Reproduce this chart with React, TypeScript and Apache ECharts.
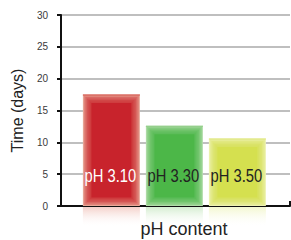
import React, { useEffect, useRef } from "react";
import * as echarts from "echarts";

const categories = ["pH 3.10", "pH 3.30", "pH 3.50"];
const days = [17.5, 12.6, 10.6];
const yTicks = [0, 5, 10, 15, 20, 25, 30];
const coreColors = ["rgba(200,35,44,1)", "rgba(76,183,72,1)", "rgba(213,224,79,1)"];
const layerColors = ["rgba(200,35,44,0.28)", "rgba(76,183,72,0.28)", "rgba(213,224,79,0.28)"];
const edgeColors = ["#e9a898", "#b0dca8", "#edf2b0"];
const topColors = ["#d2504a", "#8fcd86", "#dde67a"];
const reflectColors = ["rgba(230,150,135,0.45)", "rgba(160,215,150,0.45)", "rgba(230,238,160,0.5)"];
const labelColors = ["#ffffff", "#222222", "#222222"];

const SANS = '"Liberation Sans", Arial, sans-serif';

export default function App() {
  const ref = useRef<HTMLDivElement>(null);
  useEffect(() => {
    if (!ref.current) return;
    const chart = echarts.init(ref.current, null, { renderer: "svg" });
    chart.setOption({
      animation: false,
      backgroundColor: "#ffffff",
      grid: { left: 61, right: 1, top: 15, bottom: 34, containLabel: false, outerBoundsMode: "none" },
      xAxis: {
        type: "value",
        min: -0.8,
        max: 2.835,
        interval: 3.635,
        name: "pH content",
        nameLocation: "middle",
        nameGap: 14,
        nameTextStyle: { fontSize: 18, color: "#222", fontFamily: SANS, padding: [0, 0, 0, 17] },
        axisLine: { onZero: false, lineStyle: { color: "#111", width: 2 } },
        axisTick: { show: true, inside: true, length: 5, lineStyle: { color: "#111", width: 2 } },
        axisLabel: { show: false },
        splitLine: { show: false },
      },
      yAxis: {
        type: "value",
        min: yTicks[0],
        max: yTicks[yTicks.length - 1],
        interval: 5,
        name: "Time (days)",
        nameLocation: "middle",
        nameGap: 35,
        nameTextStyle: { fontSize: 16, color: "#222", fontFamily: SANS },
        axisLine: { show: true, onZero: false, lineStyle: { color: "#111", width: 2 } },
        axisTick: { show: true, length: 4, lineStyle: { color: "#111", width: 2 } },
        axisLabel: { fontSize: 10, color: "#3a3a3a", margin: 13, fontFamily: SANS },
        splitLine: { show: true, lineStyle: { color: "#aaaaaa", width: 1.5 } },
      },
      series: [
        {
          type: "custom",
          data: days.map((v, i) => [i, v]),
          renderItem: (params: any, api: any) => {
            const idx = api.value(0);
            const val = api.value(1);
            const top = api.coord([idx, val]);
            const base = api.coord([idx, 0]);
            const w = api.size([0.905, 0])[0];
            const x0 = top[0] - w / 2;
            const h = base[1] - top[1];
            const children: any[] = [
              { type: "rect", shape: { x: x0, y: top[1], width: w, height: h }, style: { fill: edgeColors[idx] } },
            ];
            const insets = [1, 2.5, 4, 5.5, 7];
            insets.forEach((d) => {
              children.push({
                type: "rect",
                shape: { x: x0 + d, y: top[1] + d, width: w - 2 * d, height: h - 2 * d },
                style: { fill: layerColors[idx] },
              });
            });
            children.push(
              {
                type: "rect",
                shape: { x: x0 + 8.5, y: top[1] + 8.5, width: w - 17, height: h - 17 },
                style: { fill: coreColors[idx] },
              },
              { type: "rect", shape: { x: x0, y: top[1], width: w, height: 1 }, style: { fill: topColors[idx] } },
              {
                type: "rect",
                shape: { x: x0, y: base[1] + 1, width: w, height: 20 },
                style: {
                  fill: {
                    type: "linear", x: 0, y: 0, x2: 0, y2: 1,
                    colorStops: [
                      { offset: 0, color: reflectColors[idx] },
                      { offset: 1, color: "rgba(255,255,255,0)" },
                    ],
                  },
                },
              },
              {
                type: "text",
                x: top[0] - 1,
                y: base[1] - 31,
                scaleX: 0.82,
                style: {
                  text: categories[idx],
                  fill: labelColors[idx],
                  font: `18px ${SANS}`,
                  align: "center",
                  verticalAlign: "middle",
                },
              }
            );
            return { type: "group", children };
          },
        },
      ],
    });
    return () => chart.dispose();
  }, []);
  return <div ref={ref} style={{ width: 291, height: 240, position: "absolute", left: 0, top: 0 }} />;
}
